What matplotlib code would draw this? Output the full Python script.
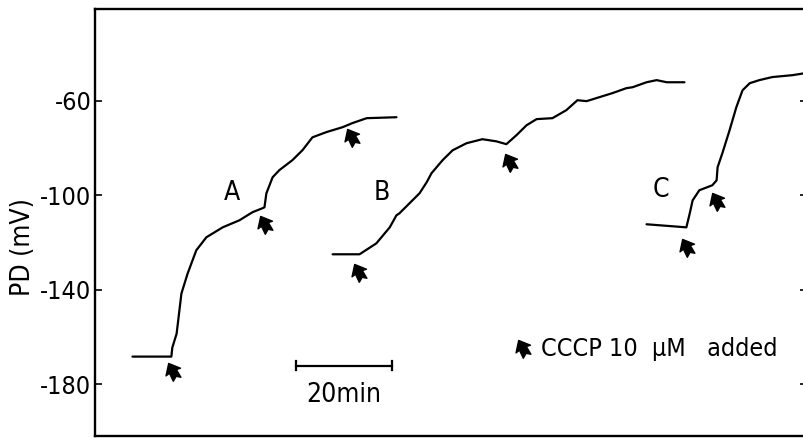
import numpy as np
import matplotlib
matplotlib.use("Agg")
import matplotlib.pyplot as plt
from matplotlib.path import Path
from matplotlib import transforms
from matplotlib import font_manager

# Membrane potential traces (time in min, PD in mV)
time_a = [7.7, 15.8, 16.0, 16.9, 17.9, 19.2, 21.0, 23.1, 26.5, 30.0, 32.7, 34.8,
          35.2, 35.6, 36.9, 38.3, 41.0, 43.1, 45.2, 48.1, 51.5, 53.5, 56.5, 62.7]
pd_a = [-168.3, -168.3, -164.5, -158.6, -141.6, -133.1, -123.3, -117.8, -113.6,
        -110.6, -107.2, -105.5, -105.1, -99.2, -92.4, -89.4, -85.2, -81.0, -75.5,
        -73.3, -71.2, -69.5, -67.4, -67.0]

time_b = [49.4, 55.0, 58.5, 61.3, 62.7, 63.3, 67.5, 69.0, 70.0, 72.3, 74.4, 77.3,
          80.6, 83.5, 85.6, 87.7, 89.8, 91.9, 95.2, 98.1, 100.4, 102.3, 105.0,
          107.7, 110.6, 111.9, 114.8, 116.9, 119.0, 122.7]
pd_b = [-125.0, -125.0, -120.4, -113.6, -108.5, -107.7, -99.2, -94.5, -90.7,
        -85.2, -81.0, -78.0, -76.3, -77.2, -78.4, -74.6, -70.4, -67.8, -67.4,
        -64.0, -59.8, -60.2, -58.5, -56.8, -54.7, -54.3, -52.2, -51.3, -52.2, -52.2]

time_c = [114.8, 123.1, 123.8, 124.4, 125.8, 128.5, 129.4, 129.6, 130.6, 132.1,
          133.5, 134.8, 136.3, 138.3, 141.0, 145.2, 148.0]
pd_c = [-112.3, -113.6, -107.7, -102.2, -97.9, -95.8, -93.7, -88.2, -82.2, -72.5,
        -62.8, -55.6, -52.6, -51.3, -50.0, -49.2, -48.3]

trace_labels = ["A", "B", "C"]
label_time = [28.4, 59.6, 117.7]
label_pd = [-99.2, -99.2, -97.9]

# CCCP additions (arrow positions)
cccp_time = [16.1, 35.3, 53.4, 54.9, 86.4, 123.2, 129.4]
cccp_pd = [-175.0, -112.8, -75.9, -133.1, -86.5, -122.5, -103.0]

y_ticks = [-60, -100, -140, -180]
y_tick_labels = ["-60", "-100", "-140", "-180"]

# Prefer a narrow face when one is installed
names = {f.name for f in font_manager.fontManager.ttflist}
narrow = [n for n in ("Liberation Sans Narrow", "DejaVu Sans Condensed") if n in names]
if narrow:
    plt.rcParams["font.family"] = [narrow[0], "DejaVu Sans"]
    stretch = "normal"
else:
    plt.rcParams["font.family"] = ["DejaVu Sans"]
    stretch = "condensed"
plt.rcParams["font.stretch"] = stretch
FS = 19

# Solid arrowhead marker pointing up, tilted to the upper left
arrow_verts = [(0, 1), (0.8, 0.05), (0.38, 0.12), (0.42, -0.75), (0.05, -0.45),
               (-0.42, -0.75), (-0.38, 0.12), (-0.8, 0.05), (0, 1)]
arrow_codes = [Path.MOVETO] + [Path.LINETO] * 7 + [Path.CLOSEPOLY]
arrow_path = Path(arrow_verts, arrow_codes).transformed(
    transforms.Affine2D().rotate_deg(28))

fig = plt.figure(figsize=(8.04, 4.38), dpi=100)
ax = fig.add_axes([95.5 / 804, 2 / 438, (807 - 95.5) / 804, (436 - 9) / 438])

for t, v in ((time_a, pd_a), (time_b, pd_b), (time_c, pd_c)):
    ax.plot(t, v, color="black", lw=1.6, solid_joinstyle="round",
            solid_capstyle="round")

for lab, t, v in zip(trace_labels, label_time, label_pd):
    ax.text(t, v, lab, fontsize=FS, ha="center", va="center")

ax.plot(cccp_time, cccp_pd, ls="none", marker=arrow_path, markersize=13,
        color="black", markeredgewidth=1.0)

# Legend entry for the arrow
ax.plot([89.0], [-164.9], ls="none", marker=arrow_path, markersize=13,
        color="black", markeredgewidth=1.0)
ax.text(92.8, -164.9, "CCCP 10  \u03bcM   added", fontsize=18, ha="left",
        va="center")

# 20 min scale bar
bar_start = 41.7
bar_len = 20
bar_y = -172.1
ax.plot([bar_start, bar_start + bar_len], [bar_y, bar_y], color="black", lw=1.6)
ax.plot([bar_start, bar_start], [bar_y - 2, bar_y + 2], color="black", lw=1.6)
ax.plot([bar_start + bar_len] * 2, [bar_y - 2, bar_y + 2], color="black", lw=1.6)
ax.text(bar_start + bar_len / 2, bar_y - 12.5, "20min", fontsize=FS,
        ha="center", va="center")

ax.set_xlim(0, (807 - 95.5) / 4.8)
ax.set_ylim(-201.9, -21.2)
ax.set_xticks([])
ax.set_yticks(y_ticks)
ax.set_yticklabels(y_tick_labels, fontsize=18)
ax.tick_params(axis="y", direction="in", length=5, width=1.2, pad=3,
               right=True)
for s in ax.spines.values():
    s.set_linewidth(1.7)
ax.set_ylabel("PD (mV)", fontsize=FS)
ax.yaxis.set_label_coords(-0.084, 0.443)

fig.savefig("out.png", dpi=100)
